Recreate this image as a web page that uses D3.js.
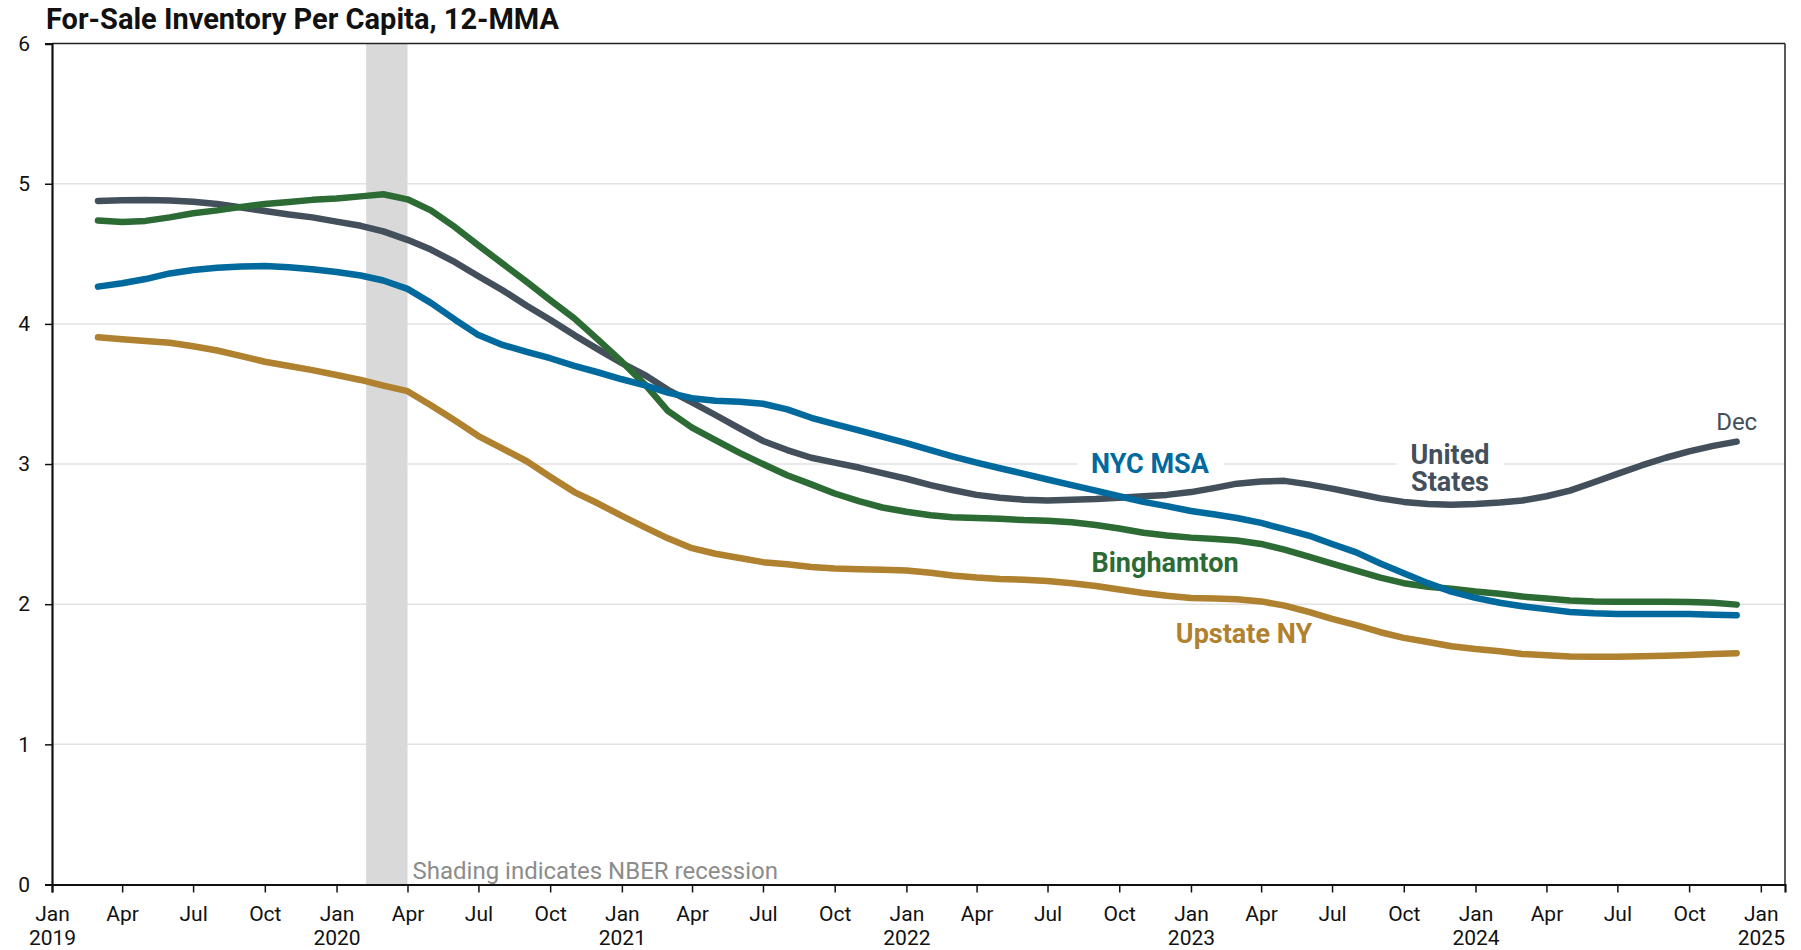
<!DOCTYPE html>
<html>
<head>
<meta charset="utf-8">
<script src="https://cdn.jsdelivr.net/npm/d3@7"></script>
<style>
  html, body { margin: 0; padding: 0; background: #ffffff; }
  svg { display: block; font-family: Roboto, "Noto Sans", sans-serif; }
</style>
</head>
<body>
<svg id="chart" width="1801" height="950"></svg>
<script>
// ---- DATA (monthly, Mar 2019 – Dec 2024) ----
const startMonth = "2019-03-01";
const unitedStates = [4.877,4.882,4.884,4.880,4.872,4.855,4.830,4.805,4.780,4.760,4.730,4.700,4.660,4.600,4.530,4.440,4.340,4.240,4.130,4.030,3.920,3.820,3.720,3.630,3.530,3.440,3.350,3.255,3.165,3.100,3.045,3.010,2.975,2.935,2.895,2.850,2.815,2.780,2.760,2.745,2.740,2.745,2.750,2.760,2.770,2.780,2.800,2.830,2.860,2.875,2.880,2.855,2.825,2.790,2.755,2.730,2.715,2.710,2.715,2.725,2.740,2.770,2.810,2.870,2.930,2.990,3.045,3.090,3.130,3.160];
const binghamton = [4.737,4.727,4.735,4.760,4.790,4.810,4.835,4.855,4.870,4.885,4.895,4.910,4.925,4.889,4.810,4.690,4.560,4.430,4.300,4.170,4.040,3.890,3.730,3.560,3.380,3.260,3.170,3.080,3.000,2.920,2.855,2.790,2.735,2.690,2.660,2.635,2.620,2.615,2.610,2.600,2.595,2.585,2.565,2.540,2.510,2.490,2.475,2.465,2.455,2.430,2.390,2.340,2.290,2.240,2.190,2.150,2.125,2.110,2.090,2.075,2.055,2.040,2.027,2.020,2.018,2.018,2.017,2.016,2.010,1.997];
const nycMsa = [4.266,4.290,4.320,4.360,4.385,4.400,4.410,4.413,4.405,4.390,4.370,4.345,4.310,4.250,4.150,4.030,3.920,3.850,3.800,3.755,3.700,3.655,3.605,3.560,3.510,3.470,3.452,3.445,3.430,3.390,3.330,3.285,3.240,3.195,3.150,3.100,3.055,3.010,2.970,2.930,2.890,2.850,2.810,2.770,2.730,2.700,2.665,2.640,2.615,2.580,2.535,2.490,2.430,2.370,2.290,2.220,2.150,2.090,2.045,2.010,1.985,1.965,1.945,1.935,1.930,1.930,1.930,1.930,1.925,1.921];
const upstateNY = [3.904,3.890,3.878,3.866,3.840,3.810,3.770,3.730,3.700,3.670,3.635,3.600,3.560,3.520,3.420,3.310,3.200,3.110,3.020,2.910,2.800,2.720,2.630,2.545,2.470,2.400,2.360,2.330,2.300,2.285,2.265,2.255,2.250,2.245,2.240,2.225,2.205,2.190,2.180,2.175,2.165,2.150,2.130,2.105,2.080,2.060,2.045,2.040,2.035,2.020,1.990,1.945,1.895,1.850,1.800,1.760,1.730,1.700,1.680,1.665,1.645,1.635,1.627,1.625,1.625,1.628,1.633,1.638,1.645,1.650];

const seriesNames = ["United States", "Binghamton", "NYC MSA", "Upstate NY"];
const seriesColors = ["#434f5a", "#2d6b34", "#00699d", "#b0812e"];
const recession = ["2020-02-08", "2020-04-01"];
const yTicks = [0, 1, 2, 3, 4, 5, 6];
const monthAbbr = ["Jan","Feb","Mar","Apr","May","Jun","Jul","Aug","Sep","Oct","Nov","Dec"];
const titleText = "For-Sale Inventory Per Capita, 12-MMA";
const noteText = "Shading indicates NBER recession";

// ---- LAYOUT ----
const svg = d3.select("#chart");
const mLeft = 52, mRight = 1785, mTop = 43.6, mBottom = 884.5;
const parse = d3.utcParse("%Y-%m-%d");
const x = d3.scaleUtc().domain([parse("2019-01-01"), parse("2025-02-01")]).range([mLeft, mRight]);
const y = d3.scaleLinear().domain([0, 6]).range([mBottom, mTop]);

const start = parse(startMonth);
const dates = unitedStates.map((_, i) => d3.utcMonth.offset(start, i));
const allSeries = [unitedStates, binghamton, nycMsa, upstateNY].map((vals, k) => ({
  name: seriesNames[k], color: seriesColors[k],
  points: vals.map((v, i) => ({ date: dates[i], value: v }))
}));

// gridlines
svg.append("g").selectAll("line").data(yTicks.filter(d => d > 0 && d < 6)).join("line")
  .attr("x1", mLeft).attr("x2", mRight)
  .attr("y1", d => y(d)).attr("y2", d => y(d))
  .attr("stroke", "#e2e2e2").attr("stroke-width", 1.5);

// recession shading
svg.append("rect")
  .attr("x", x(parse(recession[0]))).attr("width", x(parse(recession[1])) - x(parse(recession[0])))
  .attr("y", mTop).attr("height", mBottom - mTop)
  .attr("fill", "#d9d9d9");

svg.append("text").text(noteText)
  .attr("x", x(parse(recession[1])) + 5).attr("y", mBottom - 6)
  .attr("fill", "#8c8c8c").attr("font-size", 24);

// series label definitions (positions on the chart)
const labelDefs = [
  { s: 2, lines: ["NYC MSA"], x: 1150, y: 473, anchor: "middle" },
  { s: 1, lines: ["Binghamton"], x: 1165, y: 572, anchor: "middle" },
  { s: 3, lines: ["Upstate NY"], x: 1244, y: 643, anchor: "middle" },
  { s: 0, lines: ["United", "States"], x: 1450, y: 464, anchor: "middle" }
];

const labelG = svg.append("g");
const lineG = svg.append("g");
const textG = svg.append("g");

const line = d3.line().x(d => x(d.date)).y(d => y(d.value)).curve(d3.curveLinear);
lineG.selectAll("path").data(allSeries).join("path")
  .attr("d", d => line(d.points))
  .attr("fill", "none").attr("stroke", d => d.color)
  .attr("stroke-width", 6.5).attr("stroke-linejoin", "round").attr("stroke-linecap", "round");

labelDefs.forEach(l => {
  const t = textG.append("text")
    .attr("text-anchor", l.anchor)
    .attr("font-size", 27).attr("font-weight", 700)
    .attr("fill", seriesColors[l.s]);
  l.lines.forEach((s, i) => t.append("tspan").attr("x", l.x).attr("y", l.y + i * 27).text(s));
  const bb = t.node().getBBox();
  labelG.append("rect").attr("x", bb.x - 14).attr("y", bb.y - 2)
    .attr("width", bb.width + 28).attr("height", bb.height + 4).attr("fill", "#fff");
});

// Dec label on US end
const lastUS = allSeries[0].points[allSeries[0].points.length - 1];
textG.append("text").text(monthAbbr[lastUS.date.getUTCMonth()])
  .attr("x", x(lastUS.date)).attr("y", y(lastUS.value) - 12)
  .attr("text-anchor", "middle").attr("font-size", 24).attr("fill", seriesColors[0]);

// frame top and right
svg.append("line").attr("x1", mLeft).attr("x2", mRight).attr("y1", mTop).attr("y2", mTop)
  .attr("stroke", "#222").attr("stroke-width", 1.5);
svg.append("line").attr("x1", mRight).attr("x2", mRight).attr("y1", mTop).attr("y2", mBottom)
  .attr("stroke", "#222").attr("stroke-width", 1.5);

// y axis
const yAxis = svg.append("g").attr("transform", `translate(${mLeft},0)`)
  .call(d3.axisLeft(y).tickValues(yTicks).tickSize(7).tickFormat(d3.format("d")));
yAxis.select(".domain").attr("stroke", "#111").attr("stroke-width", 2.2);
yAxis.selectAll(".tick line").attr("stroke", "#111").attr("stroke-width", 1.5);
yAxis.selectAll(".tick text").attr("font-size", 21).attr("fill", "#111")
  .attr("font-family", "Roboto").attr("x", -22);

// x axis
const xTickDates = d3.utcMonth.every(3).range(parse("2019-01-01"), parse("2025-01-02"));
const xAxis = svg.append("g").attr("transform", `translate(0,${mBottom})`)
  .call(d3.axisBottom(x).tickValues(xTickDates).tickSize(8).tickFormat(""));
xAxis.select(".domain").attr("stroke", "#111").attr("stroke-width", 2.2);
xAxis.selectAll(".tick line").attr("stroke", "#111").attr("stroke-width", 1.5);
xAxis.selectAll(".tick").each(function(d) {
  const g = d3.select(this);
  const t = g.append("text").attr("text-anchor", "middle").attr("fill", "#111")
    .attr("font-size", 21).attr("font-family", "Roboto");
  t.append("tspan").attr("x", 0).attr("y", 36).text(monthAbbr[d.getUTCMonth()]);
  if (d.getUTCMonth() === 0) t.append("tspan").attr("x", 0).attr("y", 60).text(d.getUTCFullYear());
});

// title
svg.append("text").text(titleText)
  .attr("x", 46).attr("y", 29).attr("font-size", 29).attr("font-weight", 700).attr("fill", "#111");
</script>
</body>
</html>
